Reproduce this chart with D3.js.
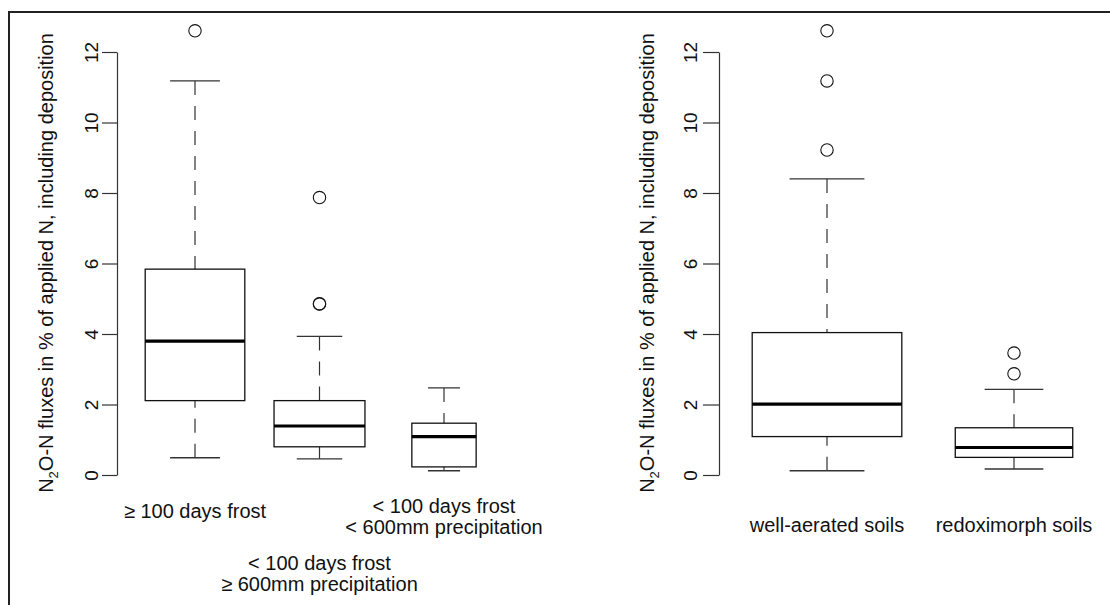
<!DOCTYPE html>
<html>
<head>
<meta charset="utf-8">
<script src="https://cdn.jsdelivr.net/npm/d3@7"></script>
<style>
body { margin: 0; background: #fff; }
svg { display: block; }
</style>
</head>
<body>
<div id="chart"></div>
<script>
// left panel: climate classes
var climateNames = [["≥ 100 days frost"], ["< 100 days frost", "≥ 600mm precipitation"], ["< 100 days frost", "< 600mm precipitation"]];
var climateN = [36, 30, 15];
var climateLow = [0.49, 0.46, 0.12];
var climateQ1 = [2.11, 0.80, 0.23];
var climateMed = [3.80, 1.39, 1.09];
var climateQ3 = [5.84, 2.11, 1.47];
var climateHigh = [11.18, 3.93, 2.47];
var climateOut = [[12.6], [4.85, 4.86, 7.87], []];

// right panel: soil aeration
var soilNames = [["well-aerated soils"], ["redoximorph soils"]];
var soilN = [60, 37];
var soilLow = [0.12, 0.17];
var soilQ1 = [1.09, 0.50];
var soilMed = [2.01, 0.78];
var soilQ3 = [4.04, 1.34];
var soilHigh = [8.40, 2.43];
var soilOut = [[9.22, 11.18, 12.6], [2.87, 3.46]];

var yTicks = [0, 2, 4, 6, 8, 10, 12];
var yLabel = ["N", "2", "O-N fluxes in % of applied N, including deposition"];

var font = "'Liberation Sans', Arial, Helvetica, sans-serif";

var svg = d3.select("#chart").append("svg")
    .attr("width", 1110).attr("height", 605)
    .attr("font-family", font);

// outer frame
svg.append("rect")
    .attr("x", 9).attr("y", 12)
    .attr("width", 1120).attr("height", 620)
    .attr("fill", "none").attr("stroke", "#222").attr("stroke-width", 2);

var y = d3.scaleLinear().domain([0, 12]).range([475, 52]);

function drawPanel(p) {
    var g = svg.append("g");
    var x = d3.scaleLinear().domain([0.5, p.names.length + 0.5]).range(p.xRange);
    var step = x(2) - x(1);
    var maxN = d3.max(p.n);
    var half = function(i) { return 0.4 * step * Math.sqrt(p.n[i] / maxN); };
    var idx = d3.range(p.names.length);

    // whiskers (dashed, from whisker end to box)
    [[p.high, p.q3], [p.low, p.q1]].forEach(function(pair) {
        g.selectAll(null).data(idx).enter().append("line")
            .attr("x1", function(i) { return x(i + 1); })
            .attr("x2", function(i) { return x(i + 1); })
            .attr("y1", function(i) { return y(pair[0][i]); })
            .attr("y2", function(i) { return y(pair[1][i]); })
            .attr("stroke", "#333").attr("stroke-width", 1.2)
            .attr("stroke-dasharray", "14,11");
    });

    // staples
    [p.low, p.high].forEach(function(v) {
        g.selectAll(null).data(idx).enter().append("line")
            .attr("x1", function(i) { return x(i + 1) - half(i) / 2; })
            .attr("x2", function(i) { return x(i + 1) + half(i) / 2; })
            .attr("y1", function(i) { return y(v[i]); })
            .attr("y2", function(i) { return y(v[i]); })
            .attr("stroke", "#333").attr("stroke-width", 1.3);
    });

    // boxes
    g.selectAll(".box").data(idx).enter().append("rect")
        .attr("x", function(i) { return x(i + 1) - half(i); })
        .attr("width", function(i) { return 2 * half(i); })
        .attr("y", function(i) { return y(p.q3[i]); })
        .attr("height", function(i) { return y(p.q1[i]) - y(p.q3[i]); })
        .attr("fill", "#fff").attr("stroke", "#111").attr("stroke-width", 1.3);

    // medians
    g.selectAll(".median").data(idx).enter().append("line")
        .attr("x1", function(i) { return x(i + 1) - half(i); })
        .attr("x2", function(i) { return x(i + 1) + half(i); })
        .attr("y1", function(i) { return y(p.med[i]); })
        .attr("y2", function(i) { return y(p.med[i]); })
        .attr("stroke", "#000").attr("stroke-width", 3.2);

    // outliers
    var pts = [];
    p.out.forEach(function(list, i) { list.forEach(function(v) { pts.push({i: i, v: v}); }); });
    g.selectAll(".out").data(pts).enter().append("circle")
        .attr("cx", function(d) { return x(d.i + 1); })
        .attr("cy", function(d) { return y(d.v); })
        .attr("r", 6.2)
        .attr("fill", "none").attr("stroke", "#111").attr("stroke-width", 1.1);

    // y axis
    var ax = g.append("g")
        .attr("transform", "translate(" + p.axisX + ",0)")
        .call(d3.axisLeft(y).tickValues(yTicks).tickSize(p.tickLen).tickSizeOuter(0));
    ax.select(".domain").attr("stroke", "#333").attr("stroke-width", 1.2);
    ax.selectAll(".tick line").attr("stroke", "#333").attr("stroke-width", 1.2);
    ax.selectAll(".tick text")
        .attr("x", 0).attr("dy", null)
        .attr("text-anchor", "middle")
        .attr("font-family", font)
        .style("font-size", "19px")
        .attr("fill", "#111")
        .attr("transform", "translate(" + (-p.labelOff) + ",0) rotate(-90)");

    // y axis title
    var t = g.append("text")
        .attr("transform", "translate(" + p.titleX + ",263) rotate(-90)")
        .attr("text-anchor", "middle")
        .attr("font-size", 20)
        .attr("fill", "#111");
    t.append("tspan").text(yLabel[0]);
    t.append("tspan").attr("font-size", 13).attr("dy", 5).text(yLabel[1]);
    t.append("tspan").attr("dy", -5).text(yLabel[2]);

    // group names
    idx.forEach(function(i) {
        var lines = p.names[i];
        var base = p.rowY[i % p.rowY.length] - 5 * (lines.length - 1);
        var txt = g.append("text")
            .attr("text-anchor", "middle")
            .attr("font-size", 20)
            .attr("fill", "#111");
        lines.forEach(function(s, k) {
            txt.append("tspan")
                .attr("x", x(i + 1))
                .attr("y", base + k * 21)
                .text(s);
        });
    });
}

drawPanel({
    names: climateNames, n: climateN, low: climateLow, q1: climateQ1, med: climateMed,
    q3: climateQ3, high: climateHigh, out: climateOut,
    xRange: [132.75, 506.25], axisX: 117, tickLen: 15, labelOff: 19, titleX: 53,
    rowY: [518, 575]
});

drawPanel({
    names: soilNames, n: soilN, low: soilLow, q1: soilQ1, med: soilMed,
    q3: soilQ3, high: soilHigh, out: soilOut,
    xRange: [733.5, 1107.5], axisX: 719, tickLen: 16, labelOff: 22.5, titleX: 654,
    rowY: [532]
});
</script>
</body>
</html>
